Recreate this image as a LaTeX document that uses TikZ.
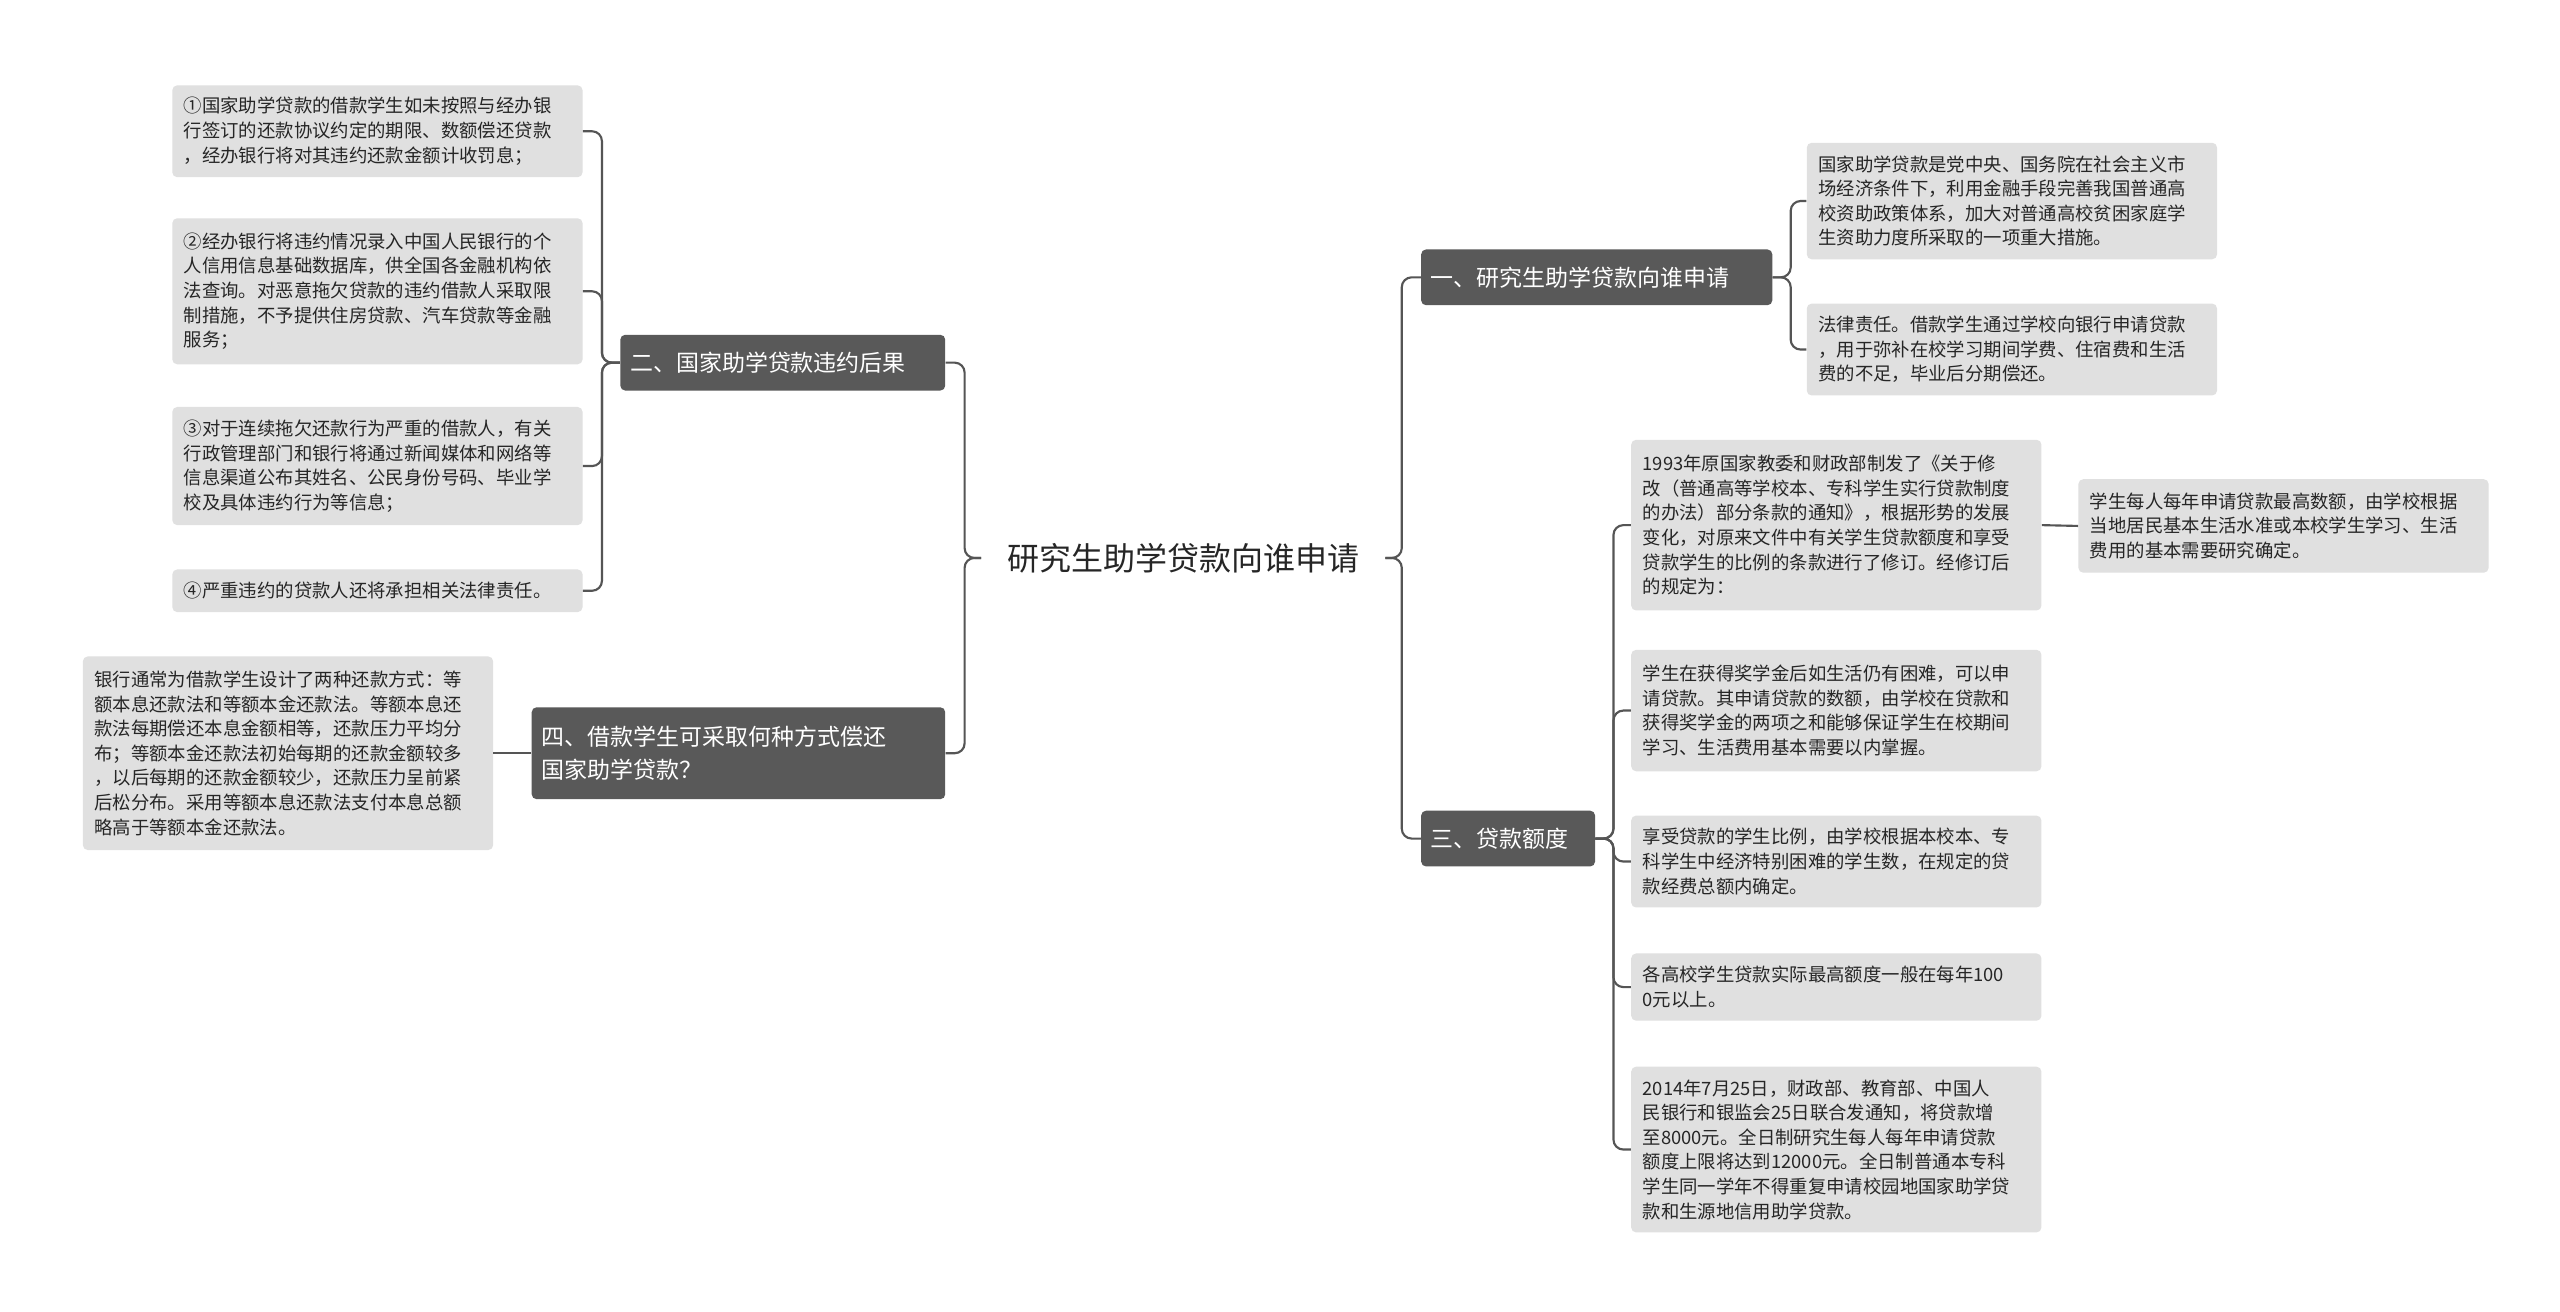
\documentclass[tikz,border=0pt]{standalone}
\usepackage{fontspec}
\setmainfont{Noto Sans CJK SC}
\begin{document}
\begin{tikzpicture}[x=1pt,y=-1pt,
  leaf/.style={fill=leafgray,rounded corners=3pt,inner sep=0pt,align=left,text width=236pt,minimum width=250pt,font=\fontsize{11.2}{15}\selectfont,text=black!85},
  branch/.style={fill=darkgray2,rounded corners=3pt,inner sep=0pt,align=left,text=white,font=\fontsize{14}{20}\selectfont},
  conn/.style={draw=linegray,line width=1.3pt,rounded corners=6pt}]
\definecolor{leafgray}{HTML}{E0E0E0}
\definecolor{darkgray2}{HTML}{595959}
\definecolor{linegray}{HTML}{555555}
\useasboundingbox[fill=white] (0,0) rectangle (1560,799);
\node[font=\fontsize{19.5}{22}\selectfont,text=black!85,inner sep=0pt,minimum width=246pt] (root) at (721,340) {研究生助学贷款向谁申请};
% left
\node[branch,minimum width=198pt,minimum height=34pt,text width=186pt] (L1) at (477,221) {二、国家助学贷款违约后果};
\node[branch,minimum width=252pt,minimum height=56pt,text width=240pt] (L2) at (450,459) {四、借款学生可采取何种方式偿还\\国家助学贷款？};
\node[leaf,minimum height=56pt] (c1) at (230,80) {①国家助学贷款的借款学生如未按照与经办银\\行签订的还款协议约定的期限、数额偿还贷款\\，经办银行将对其违约还款金额计收罚息；};
\node[leaf,minimum height=89pt] (c2) at (230,177.5) {②经办银行将违约情况录入中国人民银行的个\\人信用信息基础数据库，供全国各金融机构依\\法查询。对恶意拖欠贷款的违约借款人采取限\\制措施，不予提供住房贷款、汽车贷款等金融\\服务；};
\node[leaf,minimum height=72pt] (c3) at (230,284) {③对于连续拖欠还款行为严重的借款人，有关\\行政管理部门和银行将通过新闻媒体和网络等\\信息渠道公布其姓名、公民身份号码、毕业学\\校及具体违约行为等信息；};
\node[leaf,minimum height=26pt] (c4) at (230,360) {④严重违约的贷款人还将承担相关法律责任。};
\node[leaf,minimum height=118pt] (c5) at (175.5,459) {银行通常为借款学生设计了两种还款方式：等\\额本息还款法和等额本金还款法。等额本息还\\款法每期偿还本息金额相等，还款压力平均分\\布；等额本金还款法初始每期的还款金额较多\\，以后每期的还款金额较少，还款压力呈前紧\\后松分布。采用等额本息还款法支付本息总额\\略高于等额本金还款法。};
% right
\node[branch,minimum width=214pt,minimum height=34pt,text width=202pt] (R1) at (973,169) {一、研究生助学贷款向谁申请};
\node[branch,minimum width=106pt,minimum height=34pt,text width=94pt] (R3) at (919,511) {三、贷款额度};
\node[leaf,minimum height=71pt] (a1) at (1226,122.5) {国家助学贷款是党中央、国务院在社会主义市\\场经济条件下，利用金融手段完善我国普通高\\校资助政策体系，加大对普通高校贫困家庭学\\生资助力度所采取的一项重大措施。};
\node[leaf,minimum height=56pt] (a2) at (1226,213) {法律责任。借款学生通过学校向银行申请贷款\\，用于弥补在校学习期间学费、住宿费和生活\\费的不足，毕业后分期偿还。};
\node[leaf,minimum height=104pt] (d1) at (1119,320) {1993年原国家教委和财政部制发了《关于修\\改（普通高等学校本、专科学生实行贷款制度\\的办法）部分条款的通知》，根据形势的发展\\变化，对原来文件中有关学生贷款额度和享受\\贷款学生的比例的条款进行了修订。经修订后\\的规定为：};
\node[leaf,minimum height=57pt] (e1) at (1391.5,320.5) {学生每人每年申请贷款最高数额，由学校根据\\当地居民基本生活水准或本校学生学习、生活\\费用的基本需要研究确定。};
\node[leaf,minimum height=74pt] (d2) at (1119,433) {学生在获得奖学金后如生活仍有困难，可以申\\请贷款。其申请贷款的数额，由学校在贷款和\\获得奖学金的两项之和能够保证学生在校期间\\学习、生活费用基本需要以内掌握。};
\node[leaf,minimum height=56pt] (d3) at (1119,525) {享受贷款的学生比例，由学校根据本校本、专\\科学生中经济特别困难的学生数，在规定的贷\\款经费总额内确定。};
\node[leaf,minimum height=41pt] (d4) at (1119,601.5) {各高校学生贷款实际最高额度一般在每年100\\0元以上。};
\node[leaf,minimum height=101pt] (d5) at (1119,700.5) {2014年7月25日，财政部、教育部、中国人\\民银行和银监会25日联合发通知，将贷款增\\至8000元。全日制研究生每人每年申请贷款\\额度上限将达到12000元。全日制普通本专科\\学生同一学年不得重复申请校园地国家助学贷\\款和生源地信用助学贷款。};
% connectors
\foreach \c in {L1,L2} \draw[conn] (root.west) -- ++(-10,0) |- (\c.east);
\foreach \c in {R1,R3} \draw[conn] (root.east) -- ++(10,0) |- (\c.west);
\foreach \c in {c1,c2,c3,c4} \draw[conn] (L1.west) -- ++(-11,0) |- (\c.east);
\draw[conn] (L2.west) -- (c5.east);
\foreach \c in {a1,a2} \draw[conn] (R1.east) -- ++(11,0) |- (\c.west);
\foreach \c in {d1,d2,d3,d4,d5} \draw[conn] (R3.east) -- ++(11,0) |- (\c.west);
\draw[conn] (d1.east) -- (e1.west);
\end{tikzpicture}
\end{document}
